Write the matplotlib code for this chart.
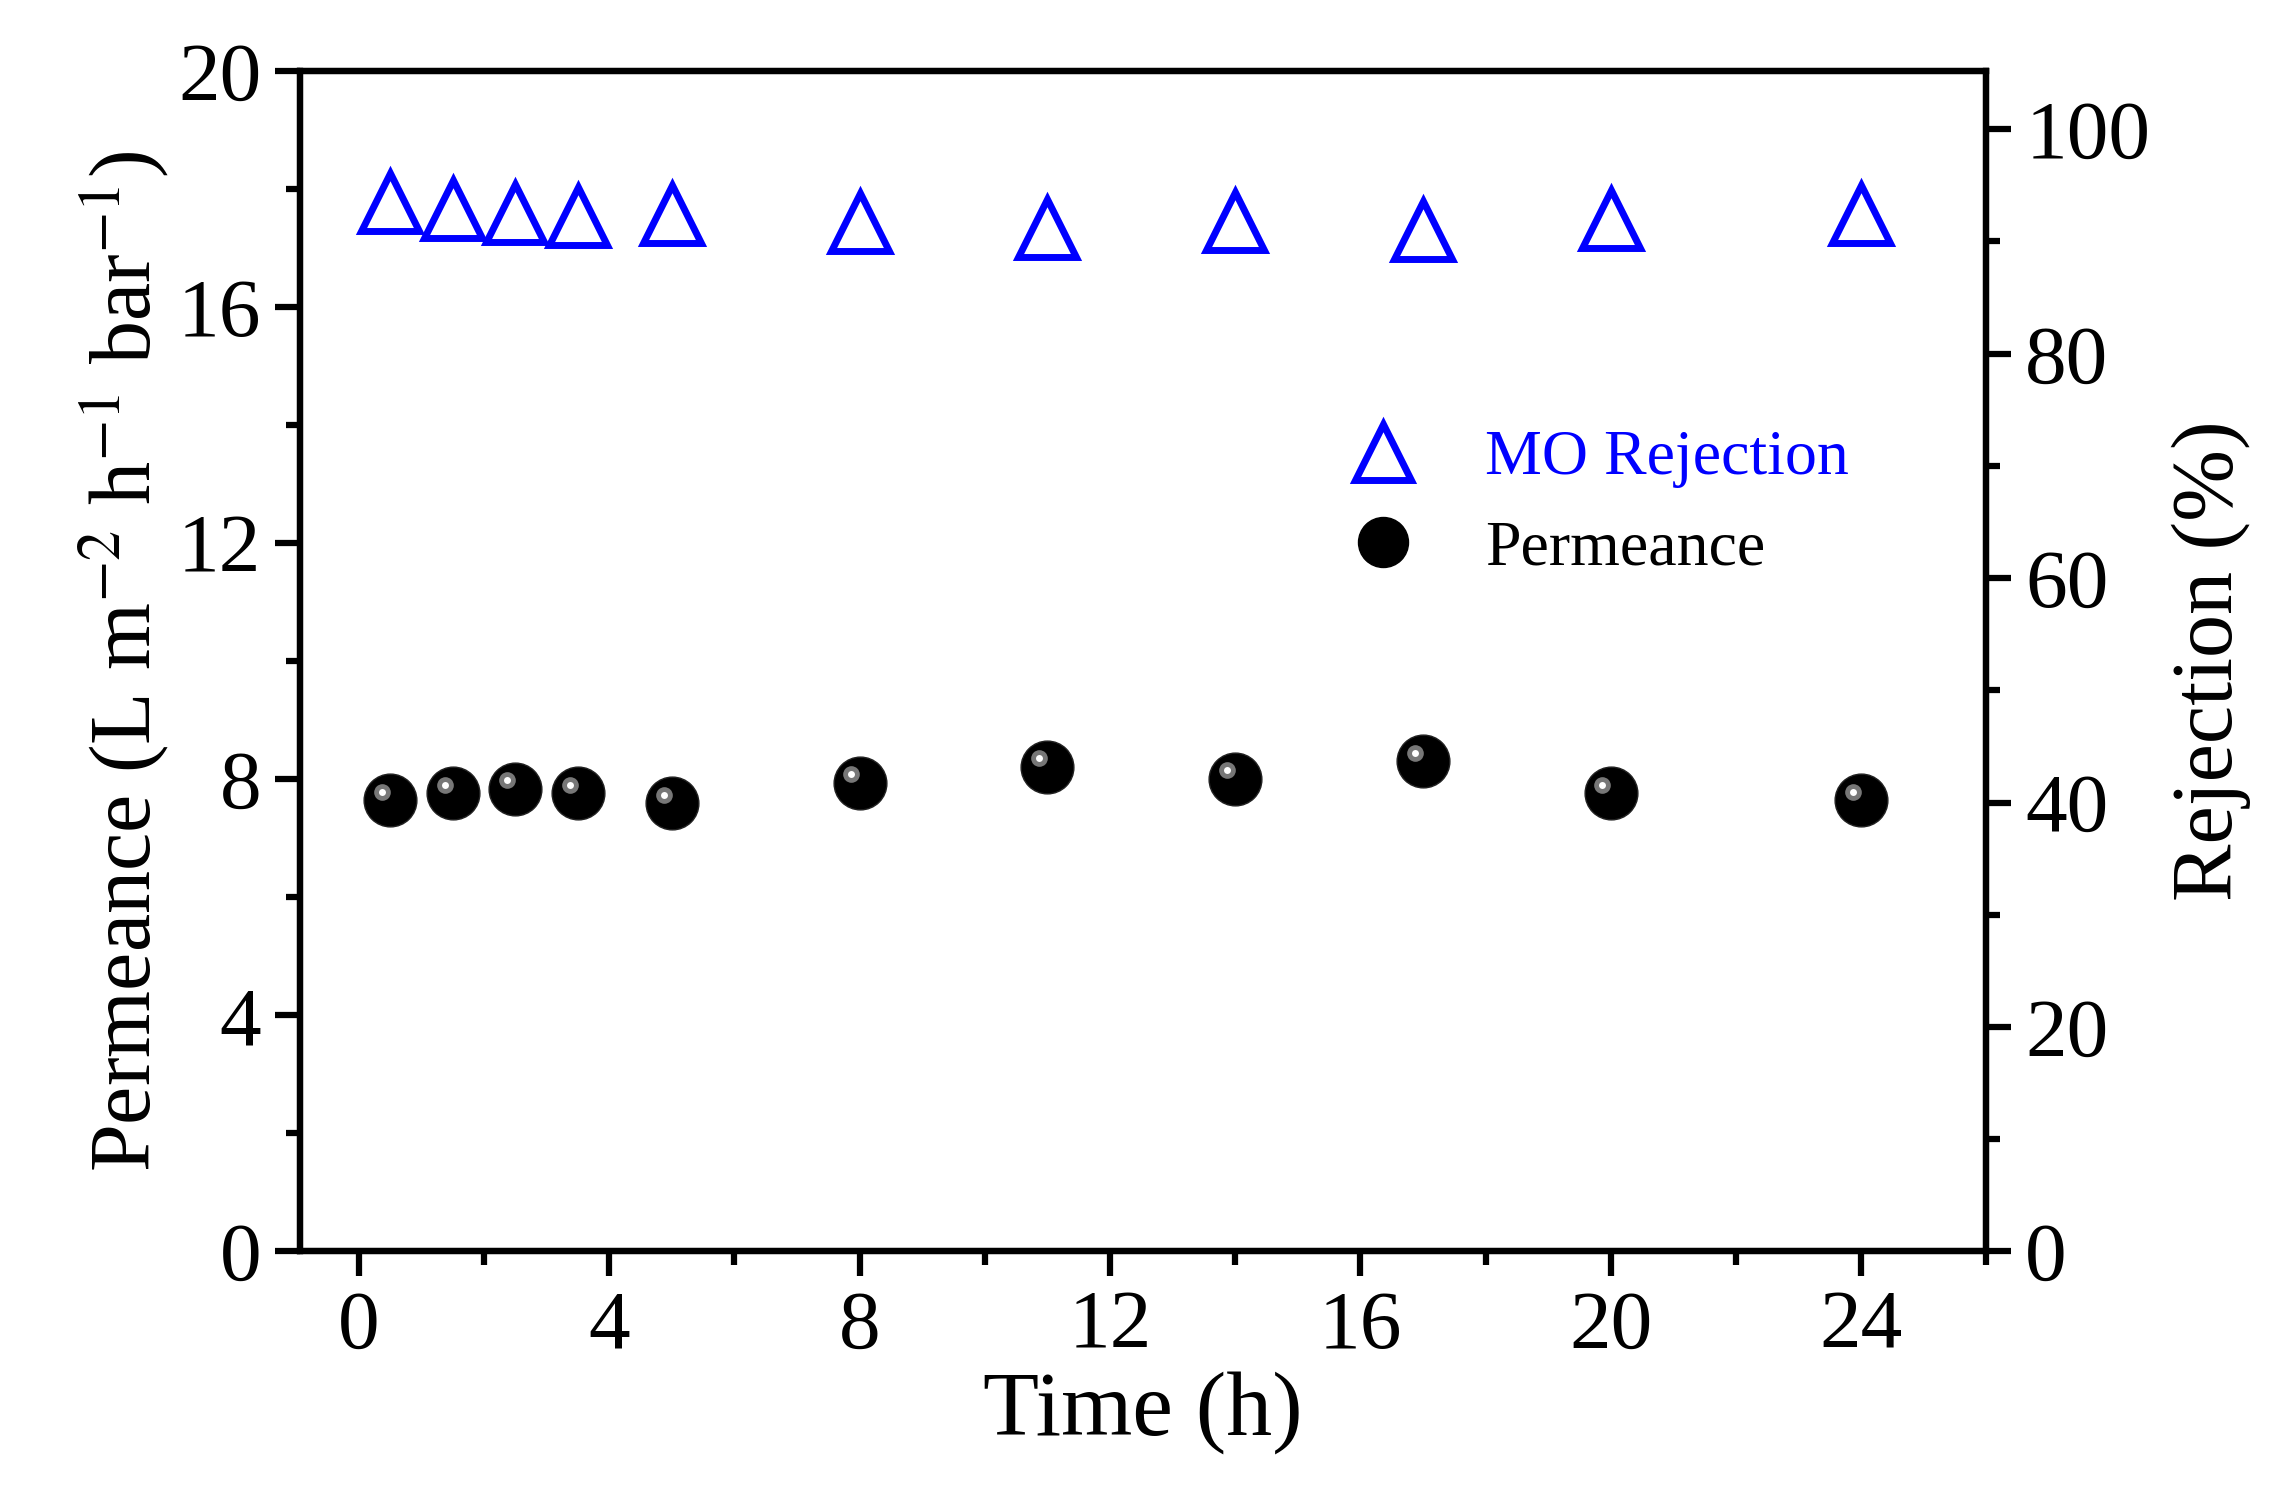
import matplotlib
matplotlib.use("Agg")
import matplotlib.pyplot as plt
from matplotlib.ticker import MultipleLocator
from matplotlib.lines import Line2D
from matplotlib.transforms import offset_copy

plt.rcParams['font.family'] = ['Liberation Serif', 'DejaVu Serif']
plt.rcParams['mathtext.fontset'] = 'stix'

time_h = [0.5, 1.5, 2.5, 3.5, 5, 8, 11, 14, 17, 20, 24]
permeance = [7.64, 7.76, 7.84, 7.76, 7.59, 7.94, 8.21, 8.01, 8.31, 7.76, 7.64]
rejection = [93.5, 92.9, 92.5, 92.3, 92.4, 91.7, 91.2, 91.8, 91.0, 92.0, 92.4]

fig = plt.figure(figsize=(22.91, 15.06), dpi=100)
ax = fig.add_axes([0.131, 0.169, 0.736, 0.784])
ax2 = ax.twinx()

# black "sphere" markers: dark disc plus an upper-left highlight
ax.plot(time_h, permeance, 'o', ms=38, color='black', mec='#222222', zorder=3)
hl = offset_copy(ax.transData, fig=fig, x=-6, y=6, units='points')
ax.plot(time_h, permeance, 'o', ms=12, color='#777777', mew=0, zorder=4, transform=hl)
ax.plot(time_h, permeance, 'o', ms=5, color='white', mew=0, zorder=5, transform=hl)
ax2.plot(time_h, rejection, '^', ms=42, mfc='none', mec='#0000ff', mew=5)

ax.set_xlim(-0.94, 26)
ax.set_ylim(0, 20)
ax2.set_ylim(0, 105.2)

ax.xaxis.set_major_locator(MultipleLocator(4))
ax.xaxis.set_minor_locator(MultipleLocator(2))
ax.yaxis.set_major_locator(MultipleLocator(4))
ax.yaxis.set_minor_locator(MultipleLocator(2))
ax2.yaxis.set_major_locator(MultipleLocator(20))
ax2.yaxis.set_minor_locator(MultipleLocator(10))

for a in (ax, ax2):
    for s in a.spines.values():
        s.set_linewidth(4.5)
    a.tick_params(which='major', length=18, width=4.5, labelsize=60, direction='out', pad=10)
    a.tick_params(which='minor', length=10, width=4.5, direction='out')

ax.set_xlabel('Time (h)', fontsize=66, labelpad=4)
ax.set_ylabel(r'Permeance (L m$^{-2}$ h$^{-1}$ bar$^{-1}$)', fontsize=62)
ax2.set_ylabel('Rejection (%)', fontsize=62, labelpad=15)

handles = [
    Line2D([], [], ls='none', marker='^', ms=40, mfc='none', mec='#0000ff', mew=5),
    Line2D([], [], ls='none', marker='o', ms=36, color='black'),
]
leg = ax.legend(handles, ['MO Rejection', 'Permeance'], loc='upper left',
                bbox_to_anchor=(0.57, 0.745), frameon=False, fontsize=46,
                handletextpad=0.6, labelspacing=0.5)
leg.get_texts()[0].set_color('#0000ff')

fig.savefig('out.png', dpi=100)
